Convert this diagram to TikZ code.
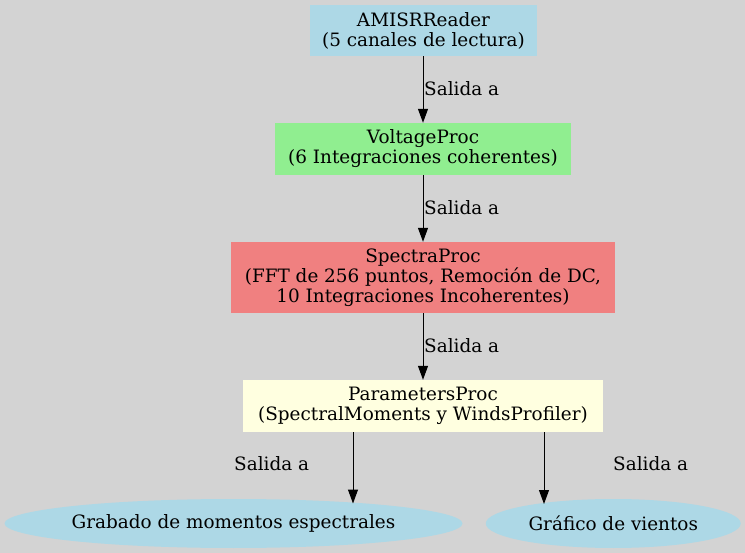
\documentclass[tikz,border=0pt]{standalone}
\usepackage{fontspec}
\setmainfont{DejaVu Serif}
\usetikzlibrary{arrows.meta,shapes.geometric}
\definecolor{bgc}{HTML}{D3D3D3}
\definecolor{lblue}{HTML}{ADD8E6}
\definecolor{lgreen}{HTML}{90EE90}
\definecolor{lcoral}{HTML}{F08080}
\definecolor{lyellow}{HTML}{FFFFE0}
\tikzset{
  gvfont/.style={font=\fontsize{18.4}{20}\selectfont},
  procbox/.style={rectangle, draw=none, inner sep=0pt, align=center, gvfont},
  outell/.style={ellipse, draw=none, fill=lblue, inner sep=0pt, gvfont},
  edgelbl/.style={inner sep=0pt, gvfont},
  gvarrow/.style={-{Triangle[length=14pt,width=10pt]}, line width=1pt}
}
\begin{document}
\begin{tikzpicture}[x=1pt,y=-1pt]
\fill[bgc] (0,0) rectangle (745,553);
\useasboundingbox (0,0) rectangle (745,553);
\node[procbox, fill=lblue, minimum width=227pt, minimum height=51pt] (amisr) at (423.5,30.5) {AMISRReader\\(5 canales de lectura)};
\node[procbox, fill=lgreen, minimum width=296pt, minimum height=52pt] (volt) at (423,149) {VoltageProc\\(6 Integraciones coherentes)};
\node[procbox, fill=lcoral, minimum width=384pt, minimum height=71pt] (spec) at (423,277.5) {SpectraProc\\(FFT de 256 puntos, Remoción de DC,\\10 Integraciones Incoherentes)};
\node[procbox, fill=lyellow, minimum width=360pt, minimum height=52pt] (params) at (423,406) {ParametersProc\\(SpectralMoments y WindsProfiler)};
\node[outell, minimum width=458pt, minimum height=49pt] (e1) at (233.5,523.5) {Grabado de momentos espectrales};
\node[outell, minimum width=255pt, minimum height=49pt] (e2) at (613.25,523.5) {Gráfico de vientos};
\coordinate (t1) at (353,503.5);
\coordinate (t2) at (544,504);
\draw[gvarrow] (amisr.south -| volt.north) -- (volt.north);
\draw[gvarrow] (volt) -- (spec);
\draw[gvarrow] (spec) -- (params);
\draw[gvarrow] ([xshift=-70pt]params.south) -- (t1);
\draw[gvarrow] ([xshift=121pt]params.south) -- (t2);
\node[edgelbl, anchor=base west] (l1) at (424,96) {Salida a};
\node[edgelbl, anchor=base west] (l2) at (424,215) {Salida a};
\node[edgelbl, anchor=base west] (l3) at (424,353) {Salida a};
\node[edgelbl, anchor=base west] (l4) at (234,471) {Salida a};
\node[edgelbl, anchor=base west] (l5) at (613,471) {Salida a};
\end{tikzpicture}
\end{document}
